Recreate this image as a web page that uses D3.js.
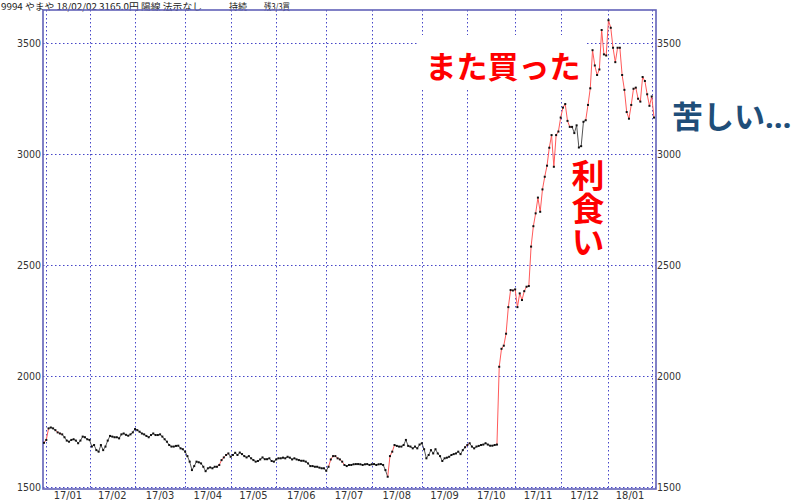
<!DOCTYPE html>
<html><head><meta charset="utf-8">
<script src="https://cdn.jsdelivr.net/npm/d3@7"></script>
<style>
html,body{margin:0;padding:0;background:#fff;}
svg{display:block;}
</style></head>
<body>
<svg id="chart" width="800" height="501"></svg>
<script>
// ---- data ----
const closes = [
1698,1711,1763,1767,1763,1755,1745,1740,1736,1723,
1708,1703,1711,1714,1708,1696,1708,1726,1723,1714,
1711,1681,1688,1665,1658,1688,1665,1681,1708,1729,
1726,1723,1723,1718,1736,1740,1734,1730,1736,1745,
1760,1755,1748,1740,1736,1729,1723,1733,1740,1733,
1733,1736,1726,1714,1703,1688,1681,1681,1684,1685,
1673,1669,1658,1638,1613,1575,1593,1613,1610,1605,
1590,1570,1583,1587,1583,1590,1590,1598,1620,1632,
1643,1650,1635,1643,1653,1643,1654,1647,1638,1632,
1638,1628,1620,1613,1616,1623,1632,1624,1624,1628,
1616,1613,1623,1628,1628,1631,1628,1635,1631,1623,
1628,1623,1620,1617,1617,1613,1605,1593,1593,1590,
1590,1586,1583,1583,1572,1590,1623,1638,1638,1628,
1623,1613,1598,1593,1598,1598,1601,1602,1602,1601,
1598,1601,1602,1598,1601,1602,1598,1601,1602,1598,
1575,1545,1638,1658,1688,1684,1681,1681,1688,1711,
1684,1681,1673,1681,1673,1690,1696,1669,1628,1643,
1665,1650,1669,1650,1638,1616,1628,1631,1635,1643,
1647,1650,1658,1647,1665,1678,1688,1696,1681,1673,
1681,1684,1688,1690,1696,1690,1685,1685,1688,1690,
2041,2122,2136,2190,2310,2387,2385,2390,2310,2372,
2342,2382,2402,2405,2583,2675,2733,2804,2740,2841,
2898,2948,3029,3086,2943,3086,3102,3165,3210,3226,
3150,3123,3123,3095,3130,3030,3036,3146,3153,3222,
3297,3469,3400,3357,3382,3560,3450,3445,3604,3570,
3480,3415,3480,3480,3357,3290,3190,3160,3222,3295,
3300,3250,3237,3348,3330,3270,3218,3260,3165
];
// trading-day index where each month starts
const monthStarts = [1,20,40,62,82,102,124,144,166,186,207,227,248,267];
const monthLabels = ["17/01","17/02","17/03","17/04","17/05","17/06","17/07","17/08","17/09","17/10","17/11","17/12","18/01"];
const yTicks = [1500,2000,2500,3000,3500];
// index ranges where the trend state is "up" (drawn red)
const upRuns = [[1,2],[6,8],[77,81],[126,132],[152,154],[186,187],[200,232],[239,268]];
const headerMain = "9994 やまや 18/02/02 3165.0円 陽線 法示なし";
const headerState = "持続";
const headerRest = "残3/3買";
const noteBuy = "また買った";
const noteTake = "利食い";
const notePain = ["苦しい","…"];

// ---- layout ----
const svg = d3.select("#chart");
const frame = {l:43, r:656, t:10, b:489};
const x = d3.scaleLinear().domain([0, closes.length-1]).range([44, 654]);
const y = d3.scaleLinear().domain([1500, 3500]).range([486.7, 43.3]);
const gridColor = "#4646c8";
const numFont = "'Liberation Sans Narrow','DejaVu Sans Condensed','Liberation Sans',sans-serif";

// header
const hdr = svg.append("g").attr("font-family","'Noto Sans CJK JP',sans-serif").attr("font-size",9).attr("fill","#222");
hdr.append("text").attr("x",1).attr("y",10).attr("textLength",201).attr("lengthAdjust","spacingAndGlyphs").text(headerMain);
hdr.append("text").attr("x",229).attr("y",10).text(headerState);
hdr.append("text").attr("x",264).attr("y",10).attr("textLength",26).attr("lengthAdjust","spacingAndGlyphs").text(headerRest);

// horizontal grid
svg.append("g").selectAll("line").data(yTicks).join("line")
  .attr("x1",frame.l).attr("x2",frame.r)
  .attr("y1",d=>Math.round(y(d))+0.5).attr("y2",d=>Math.round(y(d))+0.5)
  .attr("stroke",gridColor).attr("stroke-width",1).attr("stroke-dasharray","1.5,2.5");

// vertical month grid
svg.append("g").selectAll("line").data(monthStarts).join("line")
  .attr("x1",d=>Math.round(x(d))+0.5).attr("x2",d=>Math.round(x(d))+0.5)
  .attr("y1",frame.t).attr("y2",frame.b)
  .attr("stroke",gridColor).attr("stroke-width",1).attr("stroke-dasharray","1.5,2.5");

// white box behind the annotation
svg.append("rect").attr("x",418).attr("y",35).attr("width",169).attr("height",53).attr("fill","#fff");

// frame
svg.append("rect").attr("x",frame.l).attr("y",frame.t)
  .attr("width",frame.r-frame.l).attr("height",frame.b-frame.t)
  .attr("fill","none").attr("stroke","#6262b8").attr("stroke-width",1.6);

// y axes
const fmt = d3.format("d");
const yAxisL = d3.axisLeft(y).tickValues(yTicks).tickFormat(fmt).tickSize(0).tickPadding(0);
const gL = svg.append("g").attr("transform",`translate(${frame.l-2},0)`).call(yAxisL);
const yAxisR = d3.axisRight(y).tickValues(yTicks).tickFormat(fmt).tickSize(0).tickPadding(0);
const gR = svg.append("g").attr("transform",`translate(${frame.r+1},0)`).call(yAxisR);
[gL,gR].forEach(g=>{
  g.select(".domain").remove();
  g.selectAll("text").attr("font-family",numFont).attr("font-size",10.5).attr("fill","#333");
});

// x month labels (centered between month starts)
const mids = monthLabels.map((m,i)=>({m, c:(monthStarts[i]+monthStarts[i+1])/2}));
svg.append("g").selectAll("text").data(mids).join("text")
  .attr("x",d=>x(d.c)).attr("y",499).attr("text-anchor","middle")
  .attr("font-family",numFont).attr("font-size",11).attr("fill","#333")
  .text(d=>d.m);

// price line segments
const isUp = i => upRuns.some(([a,b])=>i>=a && i<=b);
const segs = d3.range(1, closes.length).map(i=>({i, a:closes[i-1], b:closes[i], up:isUp(i)}));
svg.append("g").selectAll("line").data(segs).join("line")
  .attr("x1",d=>x(d.i-1)).attr("x2",d=>x(d.i))
  .attr("y1",d=>y(d.a)).attr("y2",d=>y(d.b))
  .attr("stroke",d=>d.up?"#ff5a5a":"#555").attr("stroke-width",1);

// dots
svg.append("g").selectAll("rect").data(closes).join("rect")
  .attr("x",(d,i)=>x(i)-1).attr("y",d=>y(d)-1)
  .attr("width",2).attr("height",2).attr("fill","#111");

// annotations
const jp = "'Noto Sans CJK JP',sans-serif";
svg.append("text").attr("x",503).attr("y",78).attr("text-anchor","middle")
  .attr("font-family",jp).attr("font-weight","bold").attr("font-size",31).attr("fill","#ff0000").text(noteBuy);
svg.append("text").attr("x",588).attr("y",159)
  .style("writing-mode","vertical-rl")
  .attr("font-family",jp).attr("font-weight","bold").attr("font-size",33).attr("fill","#ff0000").text(noteTake);
const pain = svg.append("text").attr("x",672).attr("y",128)
  .attr("font-family",jp).attr("font-weight","bold").attr("font-size",31).attr("fill","#1f4e79");
pain.append("tspan").text(notePain[0]);
pain.append("tspan").attr("font-family","'Noto Sans','Open Sans',sans-serif").text(notePain[1]);
</script>
</body></html>
